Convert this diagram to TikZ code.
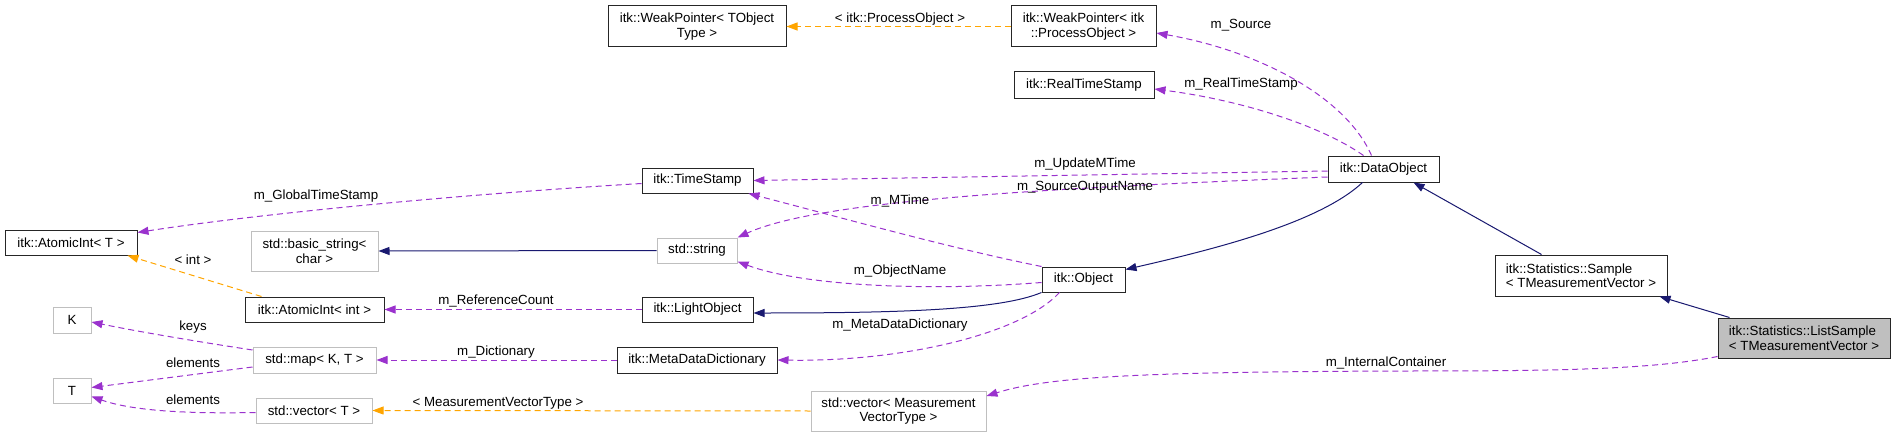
\documentclass[tikz,border=0pt]{standalone}
\usepackage{fontspec}
\setmainfont{Liberation Sans}
\usetikzlibrary{arrows.meta,calc}
\definecolor{purp}{HTML}{9A32CD}
\definecolor{orng}{HTML}{FFA500}
\definecolor{navy}{HTML}{191970}
\definecolor{gborder}{HTML}{BFBFBF}
\definecolor{gfill}{HTML}{BFBFBF}
\tikzset{
  box/.style={draw=black!85, line width=1pt, fill=white, inner sep=0pt, align=center,
    font=\fontsize{13.3}{14.5}\selectfont},
  gbox/.style={box, draw=gborder},
  lbl/.style={inner sep=0pt, font=\fontsize{13.3}{14.5}\selectfont},
  tip/.style={-{Triangle[length=11pt,width=8pt]}},
  mem/.style={draw=purp, line width=1pt, dash pattern=on 6pt off 4pt, tip},
  tmpl/.style={draw=orng, line width=1pt, dash pattern=on 6pt off 4pt, tip},
  inh/.style={draw=navy, line width=1pt, tip},
}
\begin{document}
\begin{tikzpicture}[x=1pt,y=-1pt]
\useasboundingbox (0,0) rectangle (1896,436);
% nodes
\node[box, minimum width=178, minimum height=41] (wpT) at (697,26.5) {itk::WeakPointer< TObject\\Type >};
\node[box, minimum width=145, minimum height=41] (wpP) at (1083.5,26.5) {itk::WeakPointer< itk\\::ProcessObject >};
\node[box, minimum width=140, minimum height=26] (rts) at (1084,85) {itk::RealTimeStamp};
\node[box, minimum width=111, minimum height=25] (ts) at (697.5,180.5) {itk::TimeStamp};
\node[box, minimum width=111, minimum height=26] (dobj) at (1383.5,169) {itk::DataObject};
\node[box, minimum width=132, minimum height=25] (aiT) at (71,242.5) {itk::AtomicInt< T >};
\node[gbox, minimum width=127, minimum height=40] (bstr) at (314.5,251) {std::basic\_string<\\char >};
\node[gbox, minimum width=80, minimum height=25] (str) at (697,250.5) {std::string};
\node[box, minimum width=83, minimum height=25] (obj) at (1083.5,279.5) {itk::Object};
\node[box, minimum width=139, minimum height=25] (aiI) at (314.5,309.5) {itk::AtomicInt< int >};
\node[box, minimum width=111, minimum height=25] (lobj) at (697.5,309.5) {itk::LightObject};
\node[gbox, minimum width=38, minimum height=26] (K) at (72,320) {K};
\node[gbox, minimum width=123, minimum height=26] (map) at (314.5,360) {std::map< K, T >};
\node[box, minimum width=160, minimum height=26] (mdd) at (697,360) {itk::MetaDataDictionary};
\node[gbox, minimum width=38, minimum height=25] (T) at (72,390.5) {T};
\node[gbox, minimum width=116, minimum height=25] (vecT) at (314,410.5) {std::vector< T >};
\node[gbox, minimum width=175, minimum height=40] (vecM) at (898.5,411) {std::vector< Measurement\\VectorType >};
\node[box, minimum width=172, minimum height=41, align=left] (samp) at (1581,275.5) {itk::Statistics::Sample\\< TMeasurementVector >};
\node[box, fill=gfill, minimum width=172, minimum height=40, align=left] (ls) at (1804,338) {itk::Statistics::ListSample\\< TMeasurementVector >};
% connectors
\draw[tmpl] (wpP.west) -- (wpT.east);
\draw[mem] ($(dobj.north west)+(44,0)$) .. controls (1345,95) and (1255,50) .. ($(wpP.east)+(0,6.5)$);
\draw[mem] ($(dobj.north west)+(36,0)$) .. controls (1320,125) and (1240,100) .. ($(rts.east)+(0,4)$);
\draw[mem] ($(dobj.west)+(0,2)$) -- (ts.east);
\draw[mem] ($(dobj.west)+(0,8)$) .. controls (1050,188) and (820,200) .. (str.north east);
\draw[mem] (obj.north west) .. controls (950,248) and (850,220) .. ($(ts.south east)+(-5,0)$);
\draw[mem] ($(obj.west)+(0,3)$) .. controls (920,292) and (800,285) .. ($(str.east)+(0,11)$);
\draw[inh] (obj.south west) .. controls (1000,310) and (900,313) .. ($(lobj.east)+(0,3.5)$);
\draw[mem] ($(obj.south west)+(18,0)$) .. controls (1020,335) and (900,362) .. (mdd.east);
\draw[inh] ($(dobj.south west)+(35,0)$) .. controls (1320,222) and (1220,248) .. ($(obj.north east)+(0,3)$);
\draw[inh] ($(samp.north west)+(47,0)$) -- ($(dobj.south east)+(-26,0)$);
\draw[inh] ($(ls.north west)+(12,0)$) -- ($(samp.south east)+(-8,0)$);
\coordinate (icmid) at (1400,371);
\draw[mem] ($(ls.south west)+(0,-2)$) .. controls (1650,370) and (1550,371) .. (icmid) .. controls (1150,372) and (1050,376) .. ($(vecM.east)+(0,-15)$);
\draw[tmpl] (vecM.west) -- (vecT.east);
\draw[mem] ($(vecT.west)+(0,2)$) .. controls (180,414) and (130,410) .. ($(T.east)+(0,6)$);
\draw[mem] ($(map.west)+(0,7)$) -- ($(T.east)+(0,-3)$);
\draw[mem] ($(map.west)+(0,-10)$) .. controls (200,342) and (140,332) .. ($(K.east)+(0,2)$);
\draw[mem] (mdd.west) -- (map.east);
\draw[mem] (lobj.west) -- (aiI.east);
\draw[tmpl] ($(aiI.north west)+(17,0)$) -- ($(aiT.south east)+(-10,0)$);
\draw[mem] ($(ts.west)+(0,3)$) .. controls (450,195) and (250,215) .. ($(aiT.east)+(0,-10)$);
\draw[inh] (str.west) -- (bstr.east);
% labels
\node[lbl] (l1) at (900,19) {< itk::ProcessObject >};
\node[lbl] (l2) at (1241,25) {m\_Source};
\node[lbl] (l3) at (1241,84) {m\_RealTimeStamp};
\node[lbl] (l4) at (1085,164) {m\_UpdateMTime};
\node[lbl] (l5) at (1085,187) {m\_SourceOutputName};
\node[lbl] (l6) at (900,201) {m\_MTime};
\node[lbl] (l7) at (316,196) {m\_GlobalTimeStamp};
\node[lbl] (l8) at (900,271) {m\_ObjectName};
\node[lbl] (l9) at (900,325) {m\_MetaDataDictionary};
\node[lbl] (l10) at (193,260) {< int >};
\node[lbl] (l11) at (496,301) {m\_ReferenceCount};
\node[lbl] (l12) at (193,327) {keys};
\node[lbl] (l13) at (496,352) {m\_Dictionary};
\node[lbl] (l14) at (193,363) {elements};
\node[lbl] (l15) at (193,400) {elements};
\node[lbl] (l16) at (498,403) {< MeasurementVectorType >};
\node[lbl] (l17) at (1386,363) {m\_InternalContainer};
\end{tikzpicture}
\end{document}
